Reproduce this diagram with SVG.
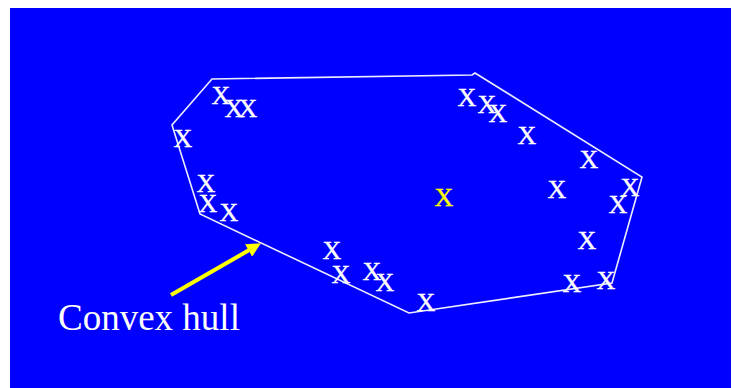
<svg xmlns="http://www.w3.org/2000/svg" width="734" height="388" viewBox="0 0 734 388">
  <style>
    .pt { font-family: "Liberation Serif", "Times New Roman", serif; font-size: 26px; fill: #ffffff; stroke: #ffffff; stroke-width: 0.4; text-anchor: middle; }
    .ctr { fill: #ffff00; stroke: #ffff00; }
    .hull { fill: none; stroke: #eeeeff; stroke-width: 1.6; stroke-linejoin: miter; }
    .lbl { font-family: "Liberation Serif", "Times New Roman", serif; font-size: 37px; fill: #ffffff; }
  </style>
  <defs>
    <marker id="ah" viewBox="0 0 10 10" refX="2" refY="5" markerWidth="3.6" markerHeight="3.6" orient="auto" markerUnits="strokeWidth">
      <path d="M0,0 L10,5 L0,10 Z" fill="#ffff00"/>
    </marker>
  </defs>
  <rect x="0" y="0" width="734" height="388" fill="#ffffff"/>
  <rect x="10" y="8" width="721" height="380" fill="#0000ff"/>
  <g id="connectors">
    <polygon id="hull" class="hull" points="212,79 472,75 475,73 642,177 612,283 409,313 200,214 172,125"/>
    <line x1="171" y1="295" x2="251" y2="249" stroke="#ffff00" stroke-width="4" marker-end="url(#ah)"/>
  </g>
  <g id="points">
    <text class="pt" x="221" y="104">X</text>
    <text class="pt" x="234" y="117">X</text>
    <text class="pt" x="248" y="117">X</text>
    <text class="pt" x="183" y="147">X</text>
    <text class="pt" x="206" y="192">X</text>
    <text class="pt" x="208" y="212">X</text>
    <text class="pt" x="229" y="221">X</text>
    <text class="pt" x="467" y="106">X</text>
    <text class="pt" x="487" y="113">X</text>
    <text class="pt" x="498" y="122">X</text>
    <text class="pt" x="527" y="144">X</text>
    <text class="pt" x="589" y="168">X</text>
    <text class="pt" x="557" y="198">X</text>
    <text class="pt" x="630" y="196">X</text>
    <text class="pt" x="618" y="213">X</text>
    <text class="pt" x="587" y="249">X</text>
    <text class="pt" x="572" y="292">X</text>
    <text class="pt" x="606" y="289">X</text>
    <text class="pt" x="332" y="259">X</text>
    <text class="pt" x="341" y="283">X</text>
    <text class="pt" x="372" y="280">X</text>
    <text class="pt" x="385" y="291">X</text>
    <text class="pt" x="426" y="311">X</text>
    <text class="pt ctr" x="444" y="206">X</text>
  </g>
  <g id="label">
    <text class="lbl" x="58" y="330">Convex hull</text>
  </g>
</svg>
